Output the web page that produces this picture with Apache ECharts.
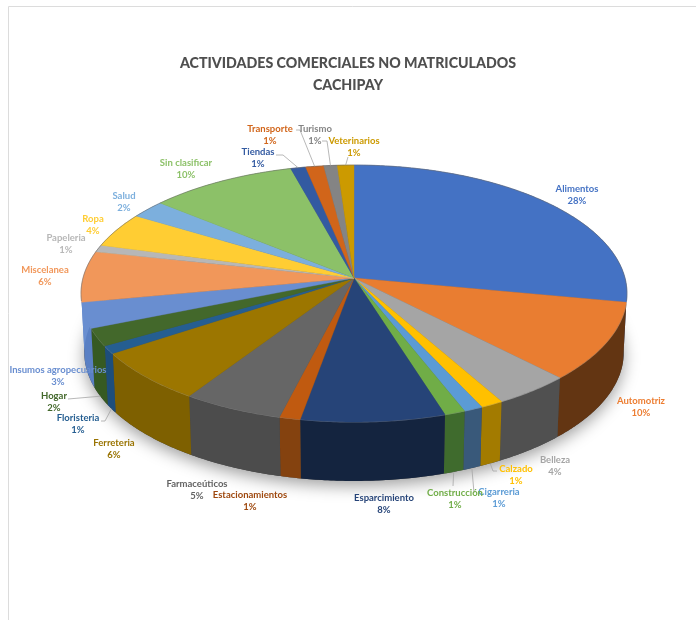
<!DOCTYPE html>
<html>
<head>
<meta charset="utf-8">
<style>html,body{margin:0;padding:0;background:#fff}#chart{width:696px;height:620px}</style>
<script src="https://cdn.jsdelivr.net/npm/echarts@6/dist/echarts.min.js"></script>
</head>
<body>
<div id="chart"></div>
<script>
// Share of unregistered commercial activities, Cachipay (percent of total)
const categories = ['Alimentos','Automotriz','Belleza','Calzado','Cigarreria','Construcción','Esparcimiento','Estacionamientos','Farmaceúticos','Ferreteria','Floristeria','Hogar','Insumos agropecuarios','Miscelanea','Papeleria','Ropa','Salud','Sin clasificar','Tiendas','Transporte','Turismo','Veterinarios'];
const shares = [28.0,9.8,4.1,1.2,1.0,1.1,7.6,1.1,5.3,6.4,1.0,2.2,3.2,6.4,0.9,4.4,2.3,9.8,1.0,1.2,0.9,1.1];

// Styling per category
const topColors = ['#4472c4','#e97d31','#a5a5a5','#ffc000','#5b9bd5','#70ad47','#264478','#c05a10','#666666','#9c7600','#255e91','#43682b','#698ed0','#f1975a','#b7b7b7','#ffcd33','#7cafdd','#8cc168','#335aa1','#d1651a','#848484','#cc9a00'];
const wallColors = ['#2e4d85','#633512','#505050','#a37b00','#39597a','#3f6b2d','#14243f','#84420f','#4c4c4c','#7e6000','#1d4e7c','#365a22','#5a80c4','#698ed0','#7a7a7a','#a88820','#527590','#5d8045','#223c6b','#8c4411','#585858','#886700'];
const labelColors = ['#4472c4','#ed7d31','#a5a5a5','#ffc000','#5b9bd5','#70ad47','#264478','#9e480e','#636363','#997300','#255e91','#43682b','#698ed0','#f1975a','#b7b7b7','#ffcd33','#7cafdd','#8cc168','#335aa1','#d1651a','#848484','#cc9a00'];

// Label centres (first line) in page pixels
const labelSpots = [[577,189],[641,401],[555,460],[516,469],[499,492],[455,493],[384,498],[250,495],[197,484],[114,443],[78,418],[54,396],[58,370],[45,270],[66,238],[93,219],[124,196],[186,163],[258,152],[270,129],[315,129],[354,141]];
// Leader line start points beside the labels, keyed by category index
const leaderStarts = {
  3:[[497,471],[493,471]], 4:[[474,493]], 5:[[453,486]],
  10:[[101,421],[105,421]], 11:[[68,399]],
  18:[[276,155],[283,155]], 19:[[296,130],[300,130]], 20:[[322,141],[327,141]], 21:[[348,157]]
};

// Tilted disc: perspective projection of a unit circle
const disc = {cx:354, cy:278, radius:271, scaleY:126.6, persp:0.1206, depth:59, baseShrink:0.988};
const total = shares.reduce((a,b)=>a+b,0);

function rim(angle){
  const x = Math.sin(angle), d = Math.cos(angle), w = 1 + disc.persp*d;
  return [disc.cx + disc.radius*x/w, disc.cy - disc.scaleY*d/w];
}
function baseRim(angle){
  const p = rim(angle);
  return [disc.cx + (p[0]-disc.cx)*disc.baseShrink, p[1] + disc.depth];
}
function arcPoints(fn, a0, a1){
  const n = Math.max(2, Math.ceil(Math.abs(a1-a0)/0.01)), pts = [];
  for (let i=0;i<=n;i++) pts.push(fn(a0+(a1-a0)*i/n));
  return pts;
}
const toAngle = s => s/total*2*Math.PI;

let running = 0;
const spans = shares.map(v => { const r=[running,running+v]; running+=v; return r; });

function drawBase(){
  return {type:'polygon', shape:{points:arcPoints(baseRim,0,2*Math.PI)},
    style:{fill:'#444', shadowBlur:16, shadowColor:'rgba(0,0,0,0.38)', shadowOffsetY:5}, silent:true};
}
function drawWall(params, api){
  const a0=toAngle(api.value(0)), a1=toAngle(api.value(1)), i=params.dataIndex;
  const pts = arcPoints(rim,a0,a1).concat(arcPoints(baseRim,a1,a0));
  const lip = arcPoints(rim,a0,a1);
  const front = Math.cos((a0+a1)/2) < 0.1;
  return {type:'group', children:[
    {type:'polygon', shape:{points:pts}, style:{fill:wallColors[i]}},
    front ? {type:'polyline', shape:{points:lip}, style:{fill:'none', stroke:'rgba(255,255,255,0.28)', lineWidth:1.2}} : null
  ].filter(Boolean)};
}
function drawTop(params, api){
  const a0=toAngle(api.value(0)), a1=toAngle(api.value(1)), i=params.dataIndex;
  const pts = [[disc.cx,disc.cy]].concat(arcPoints(rim,a0,a1));
  return {type:'polygon', shape:{points:pts}, style:{fill:topColors[i], stroke:topColors[i], lineWidth:0.4}};
}
function drawBackEdge(){
  return {type:'polyline', shape:{points:arcPoints(rim,-1.75,1.75)},
    style:{fill:'none', stroke:'rgba(110,110,110,0.55)', lineWidth:1}};
}
function drawLabel(params, api){
  const i=params.dataIndex, a0=toAngle(api.value(0)), a1=toAngle(api.value(1));
  const spot=labelSpots[i], children=[];
  const common={fill:labelColors[i], font:'bold 9.5px Lato', align:'center', verticalAlign:'middle'};
  if (leaderStarts[i]){
    const mid=(a0+a1)/2, end=Math.cos(mid)<0?baseRim(mid):rim(mid);
    children.push({type:'polyline', shape:{points:leaderStarts[i].concat([end])},
      style:{fill:'none', stroke:'#a6a6a6', lineWidth:0.8}});
  }
  children.push({type:'text', style:Object.assign({text:categories[i], x:spot[0], y:spot[1]},common)});
  children.push({type:'text', style:Object.assign({text:Math.round(api.value(2))+'%', x:spot[0], y:spot[1]+12},common)});
  return {type:'group', children};
}

const rows = spans.map((s,i)=>[s[0], s[1], shares[i]/total*100]);
const chart = echarts.init(document.getElementById('chart'), null, {renderer:'canvas'});
chart.setOption({
  animation:false,
  backgroundColor:'#fff',
  title:{
    text:'ACTIVIDADES COMERCIALES NO MATRICULADOS\nCACHIPAY',
    left:343, top:47, textAlign:'center',
    textStyle:{color:'#4f4f4f', fontFamily:'Lato', fontWeight:900, fontSize:14.2, lineHeight:22}
  },
  graphic:[
    {type:'polyline', silent:true, z:0, shape:{points:[[8.5,620],[8.5,6.5],[696,6.5]]},
     style:{fill:'none', stroke:'#dcdcdc', lineWidth:1}}
  ],
  series:[
    {type:'custom', z:1, coordinateSystem:'none', silent:true, data:[0], renderItem:drawBase},
    {type:'custom', z:2, coordinateSystem:'none', silent:true, data:rows, renderItem:drawWall},
    {type:'custom', z:3, coordinateSystem:'none', silent:true, data:rows, renderItem:drawTop},
    {type:'custom', z:3, coordinateSystem:'none', silent:true, data:[0], renderItem:drawBackEdge},
    {type:'custom', z:4, coordinateSystem:'none', silent:true, data:rows, renderItem:drawLabel}
  ]
});
</script>
</body>
</html>
